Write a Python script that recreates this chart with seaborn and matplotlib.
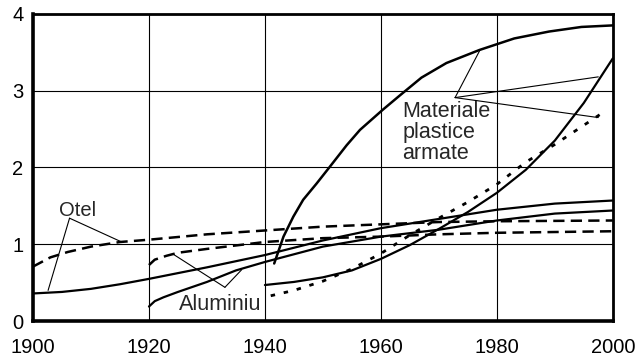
import matplotlib
matplotlib.use("Agg")
import matplotlib.pyplot as plt
import seaborn as sns

# Otel (steel)
otel_years = [1900, 1905, 1910, 1915, 1920, 1930, 1940, 1950, 1960, 1970, 1980, 1990, 2000]
otel_solid = [0.36, 0.38, 0.42, 0.48, 0.55, 0.70, 0.86, 1.05, 1.21, 1.33, 1.45, 1.53, 1.57]
otel_dash_years = [1900, 1903, 1906, 1910, 1915, 1920, 1930, 1940, 1950, 1960, 1970, 1980, 2000]
otel_dash = [0.71, 0.83, 0.90, 0.97, 1.03, 1.06, 1.13, 1.18, 1.23, 1.26, 1.29, 1.30, 1.31]

# Aluminiu
alu_years = [1920, 1921, 1922.5, 1925, 1930, 1935, 1940, 1950, 1960, 1970, 1980, 1990, 2000]
alu_solid = [0.19, 0.26, 0.31, 0.38, 0.51, 0.66, 0.77, 0.97, 1.10, 1.19, 1.31, 1.40, 1.44]
alu_dash_years = [1920, 1921, 1923, 1925, 1930, 1940, 1950, 1960, 1970, 1980, 2000]
alu_dash = [0.73, 0.80, 0.85, 0.89, 0.94, 1.03, 1.08, 1.10, 1.13, 1.15, 1.17]

# Materiale plastice armate
mpa_up_years = [1941.6, 1943.2, 1944.9, 1946.6, 1948.9, 1951.2, 1954.1, 1956.4, 1960.3,
                1963.3, 1967, 1971.3, 1977, 1983, 1989, 1994.6, 2000]
mpa_up = [0.75, 1.10, 1.36, 1.58, 1.79, 2.01, 2.29, 2.49, 2.75,
          2.94, 3.17, 3.36, 3.53, 3.68, 3.77, 3.83, 3.85]
mpa_low_years = [1940, 1945, 1950, 1955, 1960, 1965, 1970, 1975, 1980, 1985, 1990, 1995, 2000]
mpa_low = [0.47, 0.51, 0.57, 0.66, 0.81, 0.99, 1.20, 1.42, 1.67, 1.97, 2.35, 2.84, 3.42]
mpa_dash_years = [1941, 1945, 1950, 1955, 1960, 1965, 1970, 1975, 1980, 1985, 1990, 1995, 1998]
mpa_dash = [0.33, 0.40, 0.52, 0.68, 0.88, 1.12, 1.34, 1.55, 1.78, 2.07, 2.30, 2.55, 2.70]

x_ticks = [1900, 1920, 1940, 1960, 1980, 2000]
y_ticks = [0, 1, 2, 3, 4]

sns.set_style("white")
plt.rcParams['font.family'] = ['Liberation Sans', 'DejaVu Sans']

fig = plt.figure(figsize=(6.35, 3.56), dpi=100)
ax = fig.add_axes([0.052, 0.098, 0.913, 0.863])

dash_long = (0, (4.5, 2.5))
dash_short = (0, (1.6, 3.2))

sns.lineplot(x=otel_years, y=otel_solid, ax=ax, color='black', linewidth=1.6)
sns.lineplot(x=otel_dash_years, y=otel_dash, ax=ax, color='black', linewidth=1.8, linestyle=dash_long)
sns.lineplot(x=alu_years, y=alu_solid, ax=ax, color='black', linewidth=1.6)
sns.lineplot(x=alu_dash_years, y=alu_dash, ax=ax, color='black', linewidth=1.8, linestyle=dash_long)
sns.lineplot(x=mpa_up_years, y=mpa_up, ax=ax, color='black', linewidth=1.8)
sns.lineplot(x=mpa_low_years, y=mpa_low, ax=ax, color='black', linewidth=1.6)
sns.lineplot(x=mpa_dash_years, y=mpa_dash, ax=ax, color='black', linewidth=2.0, linestyle=dash_short)

ax.set_xlim(1900, 2000)
ax.set_ylim(0, 4)
ax.set_xticks(x_ticks)
ax.set_yticks(y_ticks)
ax.grid(True, color='black', linewidth=0.8)
ax.tick_params(axis='both', length=0, labelsize=14.5, colors='black')
ax.tick_params(axis='x', pad=12)
ax.tick_params(axis='y', pad=7)
for side in ['left', 'bottom']:
    ax.spines[side].set_linewidth(2.6)
for side in ['top', 'right']:
    ax.spines[side].set_linewidth(2.0)
for sp in ax.spines.values():
    sp.set_color('black')
    sp.set_visible(True)

# label leader lines
leaders = {
    'Otel': ((1906.3, 1.34), [(1902.6, 0.40), (1915.3, 1.03)]),
    'Aluminiu': ((1933.1, 0.44), [(1924.2, 0.87), (1936.0, 0.67)]),
    'Materiale': ((1972.8, 2.91), [(1977.1, 3.53), (1997.5, 3.18), (1997.5, 2.65)]),
}
for name, (vertex, ends) in leaders.items():
    for end in ends:
        ax.annotate('', xy=end, xytext=vertex,
                    arrowprops=dict(arrowstyle='-', color='black', lw=0.8,
                                    shrinkA=0, shrinkB=0))

ax.text(1904.5, 1.37, 'Otel', fontsize=14.5, va='baseline', ha='left')
ax.text(1925.2, 0.15, 'Aluminiu', fontsize=15.5, va='baseline', ha='left')
ax.text(1963.7, 2.87, 'Materiale\nplastice\narmate', fontsize=15.5, va='top', ha='left',
        linespacing=1.0)

fig.savefig('out.png', dpi=100)
